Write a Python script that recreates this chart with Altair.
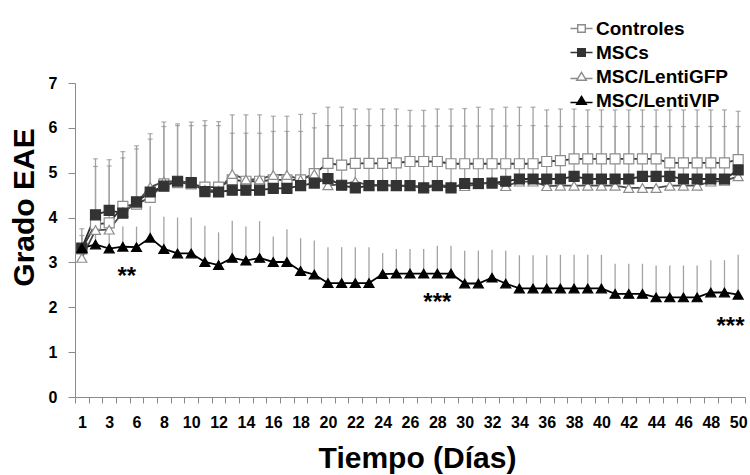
import altair as alt
import pandas as pd

FONT = "Liberation Sans"

days = ["1", "2", "3", "5", "6", "7", "8", "9", "10", "11", "12", "13", "14", "15",
        "16", "17", "18", "19", "20", "21", "22", "23", "24", "25", "26", "27", "28",
        "29", "30", "31", "32", "33", "34", "35", "36", "37", "38", "39", "40", "41",
        "42", "43", "44", "45", "46", "47", "48", "49", "50"]

series = ["Controles", "MSCs", "MSC/LentiGFP", "MSC/LentiVIP"]

controles = [3.30, 3.85, 3.88, 4.25, 4.30, 4.45, 4.75, 4.78, 4.75, 4.68, 4.68, 4.84, 4.81,
             4.81, 4.84, 4.84, 4.84, 4.98, 5.21, 5.17, 5.21, 5.21, 5.21, 5.22, 5.25, 5.25,
             5.25, 5.20, 5.20, 5.20, 5.20, 5.20, 5.20, 5.20, 5.25, 5.27, 5.31, 5.31, 5.31,
             5.31, 5.31, 5.31, 5.31, 5.22, 5.22, 5.22, 5.22, 5.22, 5.29]
mscs = [3.32, 4.06, 4.16, 4.10, 4.35, 4.57, 4.70, 4.81, 4.78, 4.58, 4.57, 4.61, 4.61,
        4.61, 4.65, 4.65, 4.71, 4.77, 4.87, 4.72, 4.66, 4.71, 4.71, 4.71, 4.71, 4.66,
        4.71, 4.66, 4.76, 4.76, 4.77, 4.81, 4.86, 4.86, 4.86, 4.86, 4.92, 4.86, 4.86,
        4.86, 4.86, 4.92, 4.92, 4.92, 4.86, 4.86, 4.86, 4.86, 5.06]
gfp = [3.10, 3.72, 3.73, 4.12, 4.33, 4.68, 4.80, 4.82, 4.77, 4.62, 4.60, 4.97, 4.85,
       4.85, 4.95, 4.95, 4.84, 4.97, 4.72, 4.74, 4.80, 4.72, 4.74, 4.70, 4.70, 4.70,
       4.73, 4.70, 4.70, 4.74, 4.80, 4.70, 4.80, 4.80, 4.70, 4.71, 4.71, 4.71, 4.71,
       4.71, 4.66, 4.66, 4.66, 4.71, 4.71, 4.71, 4.80, 4.82, 4.92]
vip = [3.32, 3.40, 3.31, 3.35, 3.34, 3.55, 3.30, 3.20, 3.20, 3.01, 2.94, 3.10, 3.04,
       3.10, 3.01, 3.01, 2.81, 2.73, 2.54, 2.54, 2.54, 2.54, 2.74, 2.75, 2.75, 2.75,
       2.75, 2.75, 2.53, 2.53, 2.66, 2.53, 2.42, 2.42, 2.42, 2.42, 2.42, 2.42, 2.42,
       2.30, 2.30, 2.30, 2.22, 2.22, 2.22, 2.22, 2.33, 2.33, 2.28]

# upper ends of the error bars
controles_top = [3.75, 5.31, 5.29, 5.47, 5.60, 5.87, 6.13, 6.09, 6.13, 6.16, 6.14, 6.29, 6.29,
                 6.29, 6.26, 6.26, 6.30, 6.32, 6.46, 6.46, 6.42, 6.42, 6.42, 6.42, 6.39, 6.39,
                 6.42, 6.42, 6.43, 6.46, 6.42, 6.46, 6.46, 6.46, 6.40, 6.42, 6.42, 6.40, 6.40,
                 6.40, 6.40, 6.40, 6.40, 6.40, 6.40, 6.40, 6.40, 6.40, 6.37]
mscs_top = [3.60, 5.14, 5.15, 5.33, 5.53, 5.75, 6.03, 6.05, 6.05, 6.05, 6.05, 5.88, 5.88,
            5.88, 5.92, 5.92, 5.92, 6.00, 6.05, 6.05, 6.05, 6.05, 6.05, 6.05, 6.04, 6.04,
            6.04, 6.04, 6.04, 6.04, 6.04, 6.04, 6.05, 6.05, 6.04, 6.03, 6.03, 6.03, 6.03,
            6.03, 6.03, 6.03, 6.03, 6.03, 6.03, 6.03, 6.03, 6.03, 6.03]
vip_top = [3.60, 3.80, 3.70, 3.80, 3.80, 4.25, 4.02, 4.00, 4.00, 3.82, 3.67, 3.93, 3.80,
           3.92, 3.58, 3.74, 3.54, 3.49, 3.34, 3.34, 3.34, 3.34, 3.21, 3.30, 3.30, 3.30,
           3.37, 3.37, 3.26, 3.26, 3.28, 3.26, 3.16, 3.16, 3.16, 3.17, 3.17, 3.17, 3.17,
           2.97, 2.97, 2.97, 2.93, 2.93, 2.93, 2.93, 3.05, 3.05, 3.17]

star_labels = ["**", "***", "***"]
star_days = ["5", "28", "49"]
star_values = [2.53, 1.93, 1.40]
star_dx = [4, 0, 6]

# ---- tables -------------------------------------------------------------
z_order = {"Controles": 0, "MSC/LentiGFP": 1, "MSCs": 2, "MSC/LentiVIP": 3}
rows = []
for name, vals in zip(series, [controles, mscs, gfp, vip]):
    for i, (d, v) in enumerate(zip(days, vals)):
        rows.append({"day": d, "idx": i, "series": name, "value": v, "z": z_order[name]})
df = pd.DataFrame(rows)

err_rows = []
for name, vals, tops, cap in [("Controles", controles, controles_top, True),
                              ("MSCs", mscs, mscs_top, True),
                              ("MSC/LentiVIP", vip, vip_top, False)]:
    for d, v, t in zip(days, vals, tops):
        err_rows.append({"day": d, "series": name, "value": v, "top": t, "cap": cap})
err = pd.DataFrame(err_rows)

shown = days[::2]
label_expr = "indexof(" + str(shown).replace(" ", "") + ", datum.label) >= 0 ? datum.label : ''"

x_enc = alt.X(
    "day:N", sort=days,
    scale=alt.Scale(type="band", paddingInner=0, paddingOuter=0),
    axis=alt.Axis(
        title="Tiempo (Días)", labelExpr=label_expr, labelAngle=0, labelOverlap=False,
        tickBand="extent", tickSize=6, tickColor="#8a8a8a", domainColor="#8a8a8a",
        labelFont=FONT, labelFontWeight="bold", labelFontSize=16, labelColor="black",
        labelPadding=11, titleFont=FONT, titleFontSize=30, titleFontWeight="bold",
        titleColor="black", titleX=342, titleY=61, titleAlign="center",
        titleBaseline="middle", grid=False,
    ),
)
y_axis = alt.Axis(
    title="Grado EAE", values=[0, 1, 2, 3, 4, 5, 6, 7], format="d", tickSize=7,
    tickColor="#8a8a8a", domainColor="#8a8a8a", labelFont=FONT, labelFontWeight="bold",
    labelFontSize=16, labelColor="black", labelPadding=11, titleFont=FONT,
    titleFontSize=30, titleFontWeight="bold", titleColor="black", titleAngle=-90,
    titleX=-51, titleY=124, titleAlign="center", titleBaseline="middle", grid=False,
)
y_enc = alt.Y("value:Q", scale=alt.Scale(domain=[0, 7], nice=False), axis=y_axis)

err_rules = alt.Chart(err).mark_rule(color="#a3a3a3", strokeWidth=1.3).encode(
    x=x_enc, y=alt.Y("value:Q"), y2="top:Q")
err_caps = alt.Chart(err).transform_filter("datum.cap").mark_tick(
    color="#8f8f8f", size=5, thickness=1.2).encode(x=x_enc, y=alt.Y("top:Q"))

lines = alt.Chart(df).mark_line(strokeWidth=1.8).encode(
    x=x_enc, y=y_enc,
    color=alt.Color("series:N", scale=alt.Scale(domain=series,
                    range=["#3a3a3a", "#2a2a2a", "#4a4a4a", "#000000"]), legend=None),
    detail="series:N", order="idx:Q",
)

fills = ["#ffffff", "#333333", "#ffffff", "#000000"]
strokes = ["#8c8c8c", "#333333", "#8c8c8c", "#000000"]
points = alt.Chart(df).mark_point(opacity=1, strokeWidth=1.2, fillOpacity=1).encode(
    x=x_enc, y=alt.Y("value:Q"),
    shape=alt.Shape("series:N", scale=alt.Scale(domain=series,
                    range=["square", "square", "triangle-up", "triangle-up"]), legend=None),
    fill=alt.Fill("series:N", scale=alt.Scale(domain=series, range=fills), legend=None),
    stroke=alt.Stroke("series:N", scale=alt.Scale(domain=series, range=strokes), legend=None),
    size=alt.Size("series:N", scale=alt.Scale(domain=series, range=[100, 100, 130, 130]),
                  legend=None),
    order="z:Q",
)

sq_path = "M-1.6,0H-0.55M0.55,0H1.6M-0.55,-0.55H0.55V0.55H-0.55Z"
tri_path = "M-1.6,0.3H-0.45M0.45,0.3H1.6M0,-0.6L0.7,0.55H-0.7Z"
leg = alt.Legend(
    title=None, orient="none", legendX=497, legendY=-64, labelFont=FONT,
    labelFontSize=19, labelFontWeight="bold", labelColor="black", symbolSize=190,
    symbolStrokeWidth=1.4, symbolOpacity=1, labelOffset=5, rowPadding=4, padding=0,
)
legend_layer = alt.Chart(df).transform_filter("false").mark_point(opacity=1).encode(
    shape=alt.Shape("series:N", scale=alt.Scale(domain=series,
                    range=[sq_path, sq_path, tri_path, tri_path]), legend=leg),
    fill=alt.Fill("series:N", scale=alt.Scale(domain=series, range=fills), legend=leg),
    stroke=alt.Stroke("series:N", scale=alt.Scale(domain=series, range=strokes), legend=leg),
)

star_layers = []
for lab, d, v, dx in zip(star_labels, star_days, star_values, star_dx):
    sdf = pd.DataFrame({"day": [d], "value": [v], "label": [lab]})
    star_layers.append(
        alt.Chart(sdf).mark_text(font=FONT, fontSize=24, fontWeight="bold", color="black",
                                 align="center", baseline="alphabetic", dx=dx).encode(
            x=alt.X("day:N", sort=days), y=alt.Y("value:Q"), text="label:N")
    )

chart = alt.layer(err_rules, err_caps, lines, points, legend_layer, *star_layers).resolve_scale(
    shape="independent", fill="independent", stroke="independent"
).properties(
    width=670, height=314,
    padding={"left": 75, "top": 83, "right": 5, "bottom": 78},
    autosize=alt.AutoSizeParams(type="none"),
    background="white",
).configure_view(stroke=None)

chart.save("out.html", embed_options={"renderer": "svg", "actions": False})
